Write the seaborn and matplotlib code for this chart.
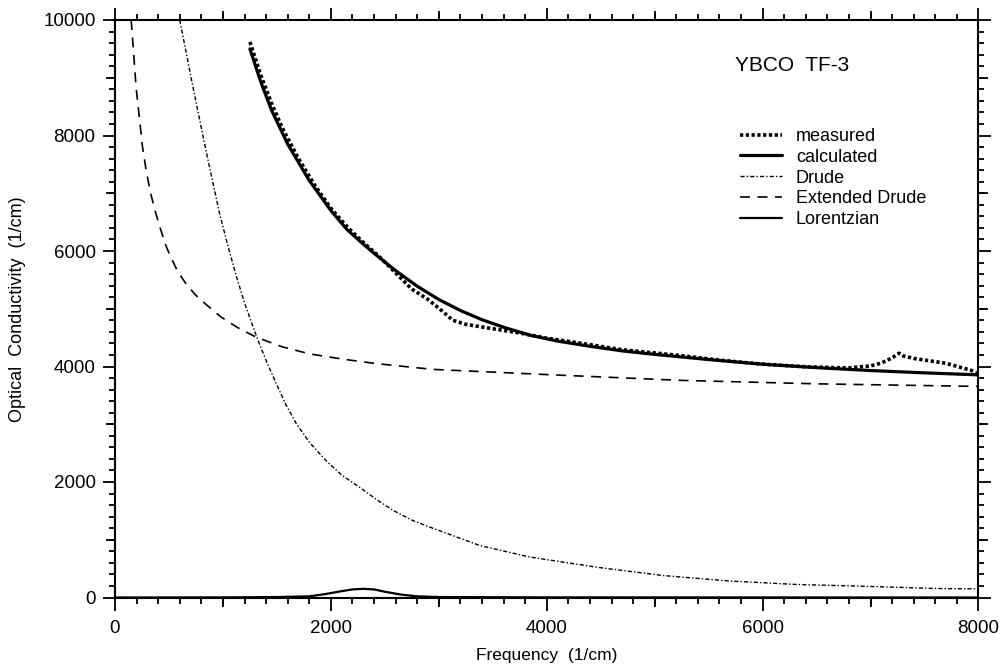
import pandas as pd
import matplotlib.pyplot as plt
import seaborn as sns
from matplotlib.ticker import MultipleLocator

# values
measured_x = [1250, 1350, 1450, 1550, 1700, 1850, 2000, 2150, 2300, 2450, 2600, 2750, 2900, 3000,
              3130, 3250, 3380, 3750, 4000, 4310, 4700, 5240, 5600, 6000, 6400, 6790, 7000, 7100,
              7200, 7265, 7300, 7400, 7700, 7930, 8000]
measured_y = [9620, 9050, 8560, 8130, 7600, 7140, 6740, 6420, 6150, 5900, 5620, 5340, 5160, 5010,
              4800, 4730, 4690, 4580, 4490, 4405, 4290, 4190, 4110, 4040, 3995, 3975, 4010, 4060,
              4150, 4230, 4185, 4140, 4055, 3935, 3870]

calc_x = [1250, 1350, 1450, 1600, 1800, 2000, 2150, 2300, 2400, 2600, 2800, 3000, 3200, 3400,
          3600, 3850, 4100, 4400, 4700, 5000, 5500, 6000, 6500, 7000, 7500, 8000]
calc_y = [9500, 8930, 8440, 7850, 7220, 6700, 6370, 6120, 5960, 5660, 5390, 5160, 4970, 4810,
          4680, 4540, 4440, 4350, 4270, 4210, 4120, 4040, 3980, 3930, 3890, 3855]

drude_x = [600, 720, 845, 970, 1050, 1125, 1200, 1325, 1410, 1495, 1580, 1680, 1800, 1955, 2100,
           2265, 2420, 2575, 2750, 2915, 3380, 3845, 4460, 5080, 5700, 6320, 6935, 7620, 8000]
drude_y = [10000, 8860, 7720, 6640, 6060, 5560, 5100, 4450, 4060, 3700, 3350, 3010, 2690, 2370,
           2120, 1910, 1700, 1510, 1340, 1220, 900, 700, 525, 380, 285, 225, 195, 155, 150]

ext_x = [150, 195, 255, 290, 330, 380, 425, 470, 515, 580, 655, 740, 840, 980, 1130, 1305, 1550,
         1800, 2100, 2420, 2945, 4000, 5240, 6500, 8000]
ext_y = [10000, 8844, 7800, 7380, 7000, 6640, 6360, 6100, 5900, 5650, 5440, 5250, 5080, 4860,
         4680, 4510, 4340, 4220, 4130, 4050, 3950, 3860, 3760, 3700, 3655]

lor_x = [0, 1000, 1500, 1800, 1950, 2100, 2200, 2300, 2400, 2500, 2650, 2800, 3000, 4000, 8000]
lor_y = [0, 2, 8, 20, 60, 110, 140, 150, 140, 100, 50, 20, 8, 2, 0]

sns.set_style("ticks")
plt.rcParams['font.family'] = ['Liberation Sans', 'DejaVu Sans']
plt.rcParams['text.color'] = 'black'
plt.rcParams['axes.labelcolor'] = 'black'
plt.rcParams['xtick.color'] = 'black'
plt.rcParams['ytick.color'] = 'black'

fig = plt.figure(figsize=(10.03, 6.67), dpi=100)
ax = fig.add_axes([115 / 1003, (667 - 597.5) / 667, 863.5 / 1003, 577.5 / 667])

sns.lineplot(x=measured_x, y=measured_y, ax=ax, color="black", lw=2.6,
             linestyle=(0, (0.9, 0.7)), label="measured", estimator=None)
sns.lineplot(x=calc_x, y=calc_y, ax=ax, color="black", lw=2.3, label="calculated", estimator=None)
sns.lineplot(x=drude_x, y=drude_y, ax=ax, color="black", lw=1.0,
             linestyle=(0, (3, 1.5, 1, 1.5)), label="Drude", estimator=None)
sns.lineplot(x=ext_x, y=ext_y, ax=ax, color="black", lw=1.2,
             linestyle=(0, (6, 4.5)), label="Extended Drude", estimator=None)
sns.lineplot(x=lor_x, y=lor_y, ax=ax, color="black", lw=1.6, label="Lorentzian", estimator=None)

ax.set_xlim(0, 8000)
ax.set_ylim(0, 10000)
ax.xaxis.set_major_locator(MultipleLocator(2000))
ax.xaxis.set_minor_locator(MultipleLocator(200))
ax.yaxis.set_major_locator(MultipleLocator(2000))
ax.yaxis.set_minor_locator(MultipleLocator(200))
ax.tick_params(which="both", direction="out", top=True, right=True, width=1.3, color="black")
ax.tick_params(which="major", length=9, labelsize=13.5)
ax.tick_params(axis="x", which="major", pad=7)
ax.tick_params(axis="y", which="major", pad=5)
ax.tick_params(which="minor", length=4.5)
for s in ax.spines.values():
    s.set_visible(True)
    s.set_linewidth(1.5)
    s.set_color("black")

# medium ticks at the odd thousands
for loc in ["bottom", "top"]:
    sec = ax.secondary_xaxis(loc)
    sec.set_xticks([1000, 3000, 5000, 7000])
    sec.tick_params(length=6.5, width=1.3, direction="out", labelbottom=False, labeltop=False)
    for s in sec.spines.values():
        s.set_visible(False)
for loc in ["left", "right"]:
    sec = ax.secondary_yaxis(loc)
    sec.set_yticks([1000, 3000, 5000, 7000, 9000])
    sec.tick_params(length=6.5, width=1.3, direction="out", labelleft=False, labelright=False)
    for s in sec.spines.values():
        s.set_visible(False)

ax.set_xlabel("Frequency  (1/cm)", fontsize=12.5)
ax.set_ylabel("Optical  Conductivity  (1/cm)", fontsize=13)
ax.xaxis.set_label_coords(0.5, -0.087)
ax.yaxis.set_label_coords(-0.103, 0.5)

ax.text(0.718, 0.922, "YBCO  TF-3", transform=ax.transAxes, fontsize=15, va="center")
ax.legend(loc="upper left", bbox_to_anchor=(0.7238, 0.813), frameon=False, fontsize=13,
          borderpad=0, borderaxespad=0, labelspacing=0.21, handlelength=2.3, handletextpad=0.8)

plt.savefig("out.png", dpi=100)
